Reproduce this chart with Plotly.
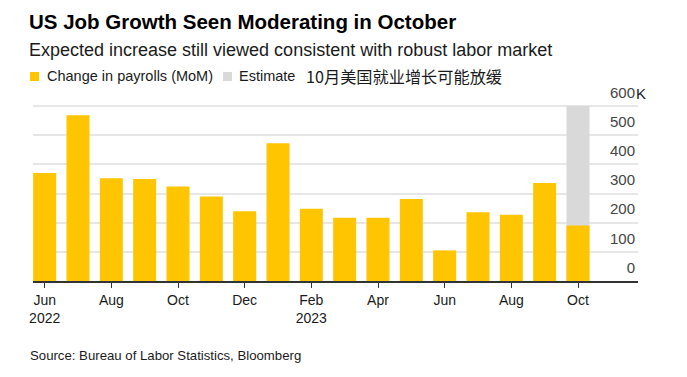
import plotly.graph_objects as go

months = ["Jun 2022", "Jul 2022", "Aug 2022", "Sep 2022", "Oct 2022", "Nov 2022",
          "Dec 2022", "Jan 2023", "Feb 2023", "Mar 2023", "Apr 2023", "May 2023",
          "Jun 2023", "Jul 2023", "Aug 2023", "Sep 2023", "Oct 2023"]
payrolls = [370, 568, 352, 350, 324, 290, 239, 472, 248, 217, 217, 281, 105, 236, 227, 336, 190]
estimate_band = [None] * 16 + [600]
tick_labels = ["Jun<br>2022", "Aug", "Oct", "Dec", "Feb<br>2023", "Apr", "Jun", "Aug", "Oct"]
y_ticks = [0, 100, 200, 300, 400, 500, 600]
y_tick_text = ["0", "100", "200", "300", "400", "500", "600"]

YELLOW = "#FFC500"
GRAY = "#D9D9D9"
FONT = "Liberation Sans, Arial, sans-serif"
TXT = "#1a1a1a"

x = list(range(len(months)))

fig = go.Figure()
fig.add_trace(go.Bar(x=x, y=estimate_band, name="Estimate", marker_color=GRAY,
                     marker_line_width=0, width=0.69,
                     customdata=months, hovertemplate="%{customdata}<extra></extra>"))
fig.add_trace(go.Bar(x=x, y=payrolls, name="Change in payrolls (MoM)", marker_color=YELLOW,
                     marker_line_width=0, width=0.69,
                     customdata=months, hovertemplate="%{customdata}: %{y}K<extra></extra>"))

# page body has an 8px margin, so everything is laid out 8px up/left
W, H = 679, 369
L, R, T, B = 25, 49, 72, 96
pw, ph = W - L - R, H - T - B
YTOP = 600 + (98 - T) / 175 * 600

def px(xp):
    return (xp - L) / pw

def py(yp):
    return (H - B - yp) / ph

def sq(x0, y0, color):
    return dict(type="rect", xref="paper", yref="paper", x0=px(x0), x1=px(x0 + 9),
                y0=py(y0 + 9), y1=py(y0), fillcolor=color, line_width=0, layer="above")

def txt(text, x0, yc, size, color=TXT, family=None, bold=False):
    f = dict(size=size, color=color)
    if family:
        f["family"] = family
    return dict(text=f"<b>{text}</b>" if bold else text, x=px(x0), y=py(yc),
                xref="paper", yref="paper", xanchor="left", yanchor="middle",
                showarrow=False, font=f)

fig.update_layout(
    width=W, height=H,
    margin=dict(l=L, r=R, t=T, b=B),
    paper_bgcolor="white", plot_bgcolor="white",
    barmode="overlay",
    font=dict(family=FONT, color=TXT, size=14),
    showlegend=False,
    xaxis=dict(range=[-0.35, 17.8], tickvals=[0, 2, 4, 6, 8, 10, 12, 14, 16],
               ticktext=tick_labels, ticks="outside", ticklen=5, tickwidth=1,
               tickcolor="#333333", showline=True, linecolor="#333333", linewidth=1.5,
               showgrid=False, zeroline=False, tickfont=dict(size=14), fixedrange=True),
    yaxis=dict(range=[0, YTOP], side="right", tickvals=y_ticks, ticktext=y_tick_text,
               ticklabelposition="inside top", ticklabelshift=-3, showgrid=True,
               gridcolor="#E6E6E6", gridwidth=1.5, zeroline=False, ticks="",
               tickfont=dict(size=15), fixedrange=True),
    shapes=[sq(22, 64, YELLOW), sq(215, 64, GRAY)],
    annotations=[
        txt("US Job Growth Seen Moderating in October", 19, 14, 20.5, "#000000", bold=True),
        txt("Expected increase still viewed consistent with robust labor market", 19, 42, 18),
        txt("Change in payrolls (MoM)", 37, 68.5, 14.5),
        txt("Estimate", 229, 68.5, 14.5),
        txt("10月美国就业增长可能放缓", 296, 67.5, 16.2, family="Noto Sans CJK SC"),
        txt("K", 625.5, 85, 15),
        txt("Source: Bureau of Labor Statistics, Bloomberg", 20, 347, 13.2),
    ],
)

fig.write_html("out.html")
